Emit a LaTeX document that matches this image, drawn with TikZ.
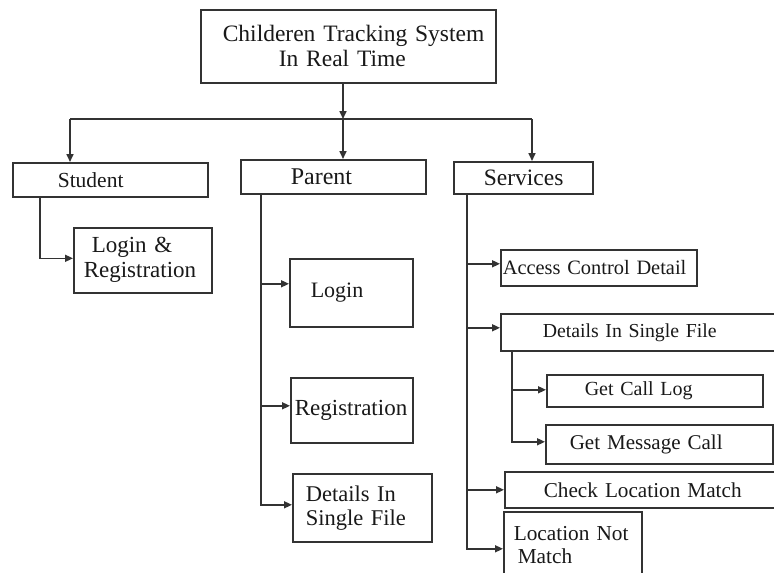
\documentclass[tikz,border=0pt]{standalone}
\usepackage{fontspec}
\setmainfont{Liberation Serif}
\usetikzlibrary{arrows.meta}
\hyphenpenalty=10000
\exhyphenpenalty=10000
\definecolor{lc}{HTML}{333333}
\begin{document}
\begin{tikzpicture}[x=1pt,y=-1pt,
  box/.style={draw=lc, line width=1.6pt, anchor=north west, align=left,
    inner xsep=5pt, inner ysep=0pt, text=black!90},
  link/.style={draw=lc, line width=1.6pt},
  arr/.style={link, -{Triangle[length=8pt,width=7pt]}},
  fs/.style={font={\fontsize{#1}{#1}\selectfont}},
  fsl/.style 2 args={font={\fontsize{#1}{#2}\selectfont}}]
\useasboundingbox (0,0) rectangle (774,573);
\clip (0,0) rectangle (774,573);
\fill[white] (0,0) rectangle (774,573);

% boxes
\node[box, fsl={23.5}{25}, text width=285pt, minimum height=73pt] (title) at (200,9)
  {\hspace*{17pt}Childeren Tracking System\\\hspace*{73pt}In Real Time};
\node[box, fs=21.5, text width=185pt, minimum height=34pt] (student) at (12,162)
  {\hspace*{40pt}Student};
\node[box, fs=24, text width=175pt, minimum height=34pt] (parent) at (240,159)
  {\hspace*{45pt}Parent};
\node[box, fs=23.5, text width=129pt, minimum height=32pt] (services) at (453,161)
  {\hspace*{25pt}Services};
\node[box, fsl={23}{25}, text width=128pt, minimum height=65pt] (logreg) at (73,227)
  {\hspace*{13pt}Login \&\\\hspace*{5pt}Registration};
\node[box, fs=22, text width=113pt, minimum height=68pt] (login) at (289,258)
  {\hspace*{16pt}Login};
\node[box, fs=23, inner xsep=2pt, text width=118pt, minimum height=65pt] (regis) at (290,377)
  {\hspace*{2pt}Registration};
\node[box, fsl={22.5}{24}, text width=129pt, minimum height=68pt] (detP) at (292,473)
  {\hspace*{8pt}Details In\\\hspace*{8pt}Single File};
\node[box, fs=20.4, inner xsep=1pt, text width=194pt, minimum height=36pt] (access) at (500,249)
  {\hspace*{1pt}Access Control Detail};
\node[box, fs=19.8, text width=280pt, minimum height=37pt] (detS) at (500,313)
  {\hspace*{37pt}Details In Single File};
\node[box, fs=20, text width=206pt, minimum height=32pt] (getcall) at (546,374)
  {\hspace*{33pt}Get Call Log};
\node[box, fs=21, text width=217pt, minimum height=39pt] (getmsg) at (545,424)
  {\hspace*{19pt}Get Message Call};
\node[box, fs=21.2, text width=276pt, minimum height=36pt] (check) at (504,471)
  {\hspace*{34pt}Check Location Match};
\node[box, fsl={21.3}{23}, text width=128pt, minimum height=67pt] (locnot) at (503,511)
  {\hspace*{5pt}Location Not\\\hspace*{9pt}Match};

% top connectors
\coordinate (bus) at (343,119);
\coordinate (busL) at (70,119);
\coordinate (busR) at (532,119);
\draw[arr] (title.south -| bus) -- (bus);
\draw[link] (busL) -- (busR);
\draw[arr] (busL) -- (busL |- student.north);
\draw[arr] (bus) -- (bus |- parent.north);
\draw[arr] (busR) -- (busR |- services.north);

% student
\coordinate (sx) at (40,0);
\draw[arr] (student.south -| sx) |- ([yshift=2pt]logreg.west);

% parent
\coordinate (px) at (261,0);
\draw[arr] (parent.south -| px) |- ([yshift=9pt]login.west);
\draw[arr] (parent.south -| px) |- ([yshift=4.5pt]regis.west);
\draw[arr] (parent.south -| px) |- ([yshift=3pt]detP.west);

% services
\coordinate (sv) at (467,0);
\draw[arr] (services.south -| sv) |- ([yshift=4pt]access.west);
\draw[arr] (services.south -| sv) |- ([yshift=4.5pt]detS.west);
\draw[arr] (services.south -| sv) |- (check.west);
\draw[arr] (services.south -| sv) |- ([yshift=-3.5pt]locnot.west);

% details in single file
\coordinate (ix) at (512,0);
\draw[arr] (detS.south -| ix) |- ([yshift=1pt]getcall.west);
\draw[arr] (detS.south -| ix) |- ([yshift=2.5pt]getmsg.west);
\end{tikzpicture}
\end{document}
